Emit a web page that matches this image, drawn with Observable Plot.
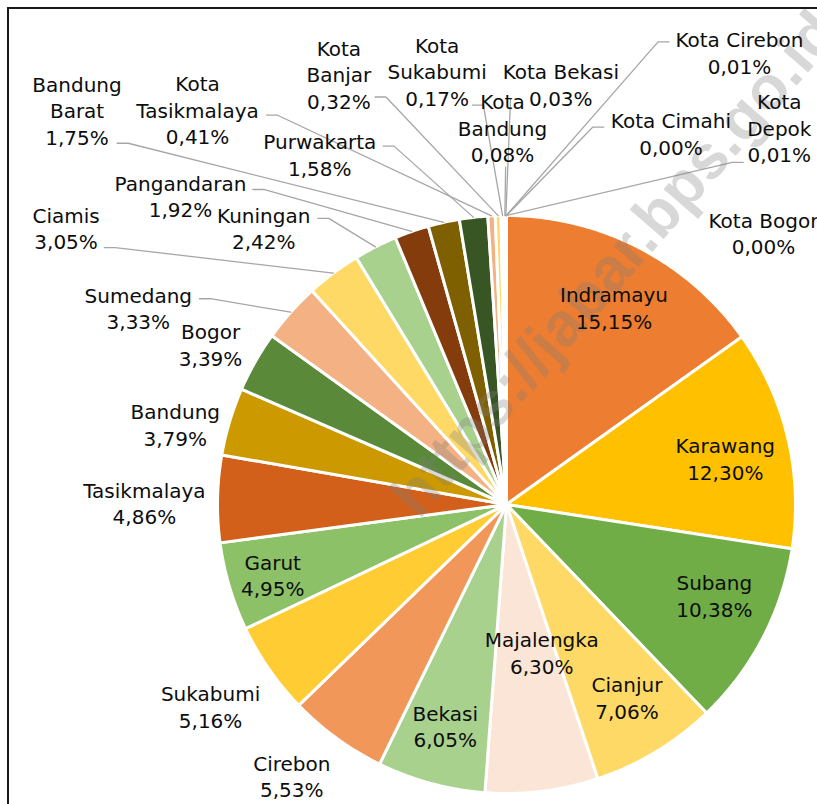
<!DOCTYPE html>
<html>
<head>
<meta charset="utf-8">
<script src="https://cdn.jsdelivr.net/npm/d3@7"></script>
<script src="https://cdn.jsdelivr.net/npm/@observablehq/plot@0.6"></script>
<style>
  html, body { margin: 0; padding: 0; background: #fff; overflow: hidden; }
  #wrap { position: relative; width: 817px; height: 804px; overflow: hidden; }
  #frame { position: absolute; left: 7px; top: 7px; width: 900px; height: 900px;
           border: 2.5px solid #1a1a1a; box-sizing: border-box; pointer-events: none; }
</style>
</head>
<body>
<div id="wrap"><div id="chart"></div><div id="frame"></div></div>
<script>
// ---- data ----
const regions = ["Indramayu","Karawang","Subang","Cianjur","Majalengka","Bekasi","Cirebon","Sukabumi","Garut","Tasikmalaya","Bandung","Bogor","Sumedang","Ciamis","Kuningan","Pangandaran","Bandung Barat","Purwakarta","Kota Tasikmalaya","Kota Banjar","Kota Sukabumi","Kota Bandung","Kota Bekasi","Kota Cirebon","Kota Depok","Kota Cimahi","Kota Bogor"];
const shares = [15.15,12.30,10.38,7.06,6.30,6.05,5.53,5.16,4.95,4.86,3.79,3.39,3.33,3.05,2.42,1.92,1.75,1.58,0.41,0.32,0.17,0.08,0.03,0.01,0.01,0.00,0.00];
const labelText = ["Indramayu","Karawang","Subang","Cianjur","Majalengka","Bekasi","Cirebon","Sukabumi","Garut","Tasikmalaya","Bandung","Bogor","Sumedang","Ciamis","Kuningan","Pangandaran","Bandung\nBarat","Purwakarta","Kota\nTasikmalaya","Kota\nBanjar","Kota\nSukabumi","Kota\nBandung","Kota Bekasi","Kota Cirebon","Kota\nDepok","Kota Cimahi","Kota Bogor"];
const watermark = "https://jabar.bps.go.id";

// ---- styles ----
const sliceColors = ["#ED7D31","#FFC000","#70AD47","#FFD966","#FBE5D6","#A9D18E","#F1975A","#FFCD33","#8CC168","#D2601A","#CC9A00","#5A8A39","#F4B183","#FFD966","#A9D18E","#843C0C","#7F6000","#375623","#F4B183","#FFD966","#A9D18E","#F8CBAD","#FFE699","#C5E0B4","#F4B183","#FFD966","#A9D18E"];

// ---- layout (in pie-radius units, centre = 0,0, y up) ----
const labelPos = [[0.372,0.684],[0.757,0.160],[0.719,-0.313],[0.417,-0.667],[0.122,-0.510],[-0.212,-0.764],[-0.743,-0.938],[-1.024,-0.698],[-0.809,-0.243],[-1.253,0.007],[-1.146,0.278],[-1.024,0.556],[-1.274,0.681],[-1.524,0.958],[-0.840,0.958],[-1.128,1.069],[-1.486,1.365],[-0.646,1.212],[-1.069,1.368],[-0.580,1.490],[-0.240,1.500],[-0.014,1.306],[0.188,1.455],[0.806,1.566],[0.944,1.306],[0.569,1.285],[0.889,0.941]];
// [slice index, start u, start v, elbow direction]
const leaders = [[12,-1.0625,0.712,1],[13,-1.392,0.889,1],[14,-0.653,0.990,1],[15,-0.878,1.090,1],[16,-1.347,1.250,1],[17,-0.427,1.240,1],[18,-0.830,1.347,1],[19,-0.455,1.410,1],[20,-0.118,1.382,1],[21,-0.003,1.167,0],[22,0.014,1.403,0],[23,0.5625,1.601,-1],[24,0.819,1.184,-1],[25,0.337,1.306,-1]];

const W = 817, H = 804, CX = 506, CY = 504, R = 289;

const fmt = v => d3.format(".2f")(v).replace(".", ",") + "%";
const arcs = d3.pie().sort(null).value(d => d)(shares);

// slice outlines
const slicePts = [];
arcs.forEach((a, i) => {
  const n = Math.max(2, Math.ceil((a.endAngle - a.startAngle) / (Math.PI / 360)));
  slicePts.push({region: regions[i], x: 0, y: 0});
  for (let k = 0; k <= n; k++) {
    const t = a.startAngle + (a.endAngle - a.startAngle) * k / n;
    slicePts.push({region: regions[i], x: Math.sin(t), y: Math.cos(t)});
  }
});

// leader lines
const leaderPts = [];
leaders.forEach(([i, u, v, dir]) => {
  const a = arcs[i], m = (a.startAngle + a.endAngle) / 2;
  leaderPts.push({region: regions[i], x: u, y: v});
  if (dir !== 0) leaderPts.push({region: regions[i], x: u + dir * 0.038, y: v});
  leaderPts.push({region: regions[i], x: Math.sin(m) * 1.0, y: Math.cos(m) * 1.0});
});

const labels = regions.map((r, i) => ({
  text: labelText[i] + "\n" + fmt(shares[i]),
  x: labelPos[i][0], y: labelPos[i][1]
}));

const chart = Plot.plot({
  width: W, height: H,
  marginTop: 0, marginRight: 0, marginBottom: 0, marginLeft: 0,
  x: {domain: [-CX / R, (W - CX) / R], axis: null},
  y: {domain: [-(H - CY) / R, CY / R], axis: null},
  color: {domain: regions, range: sliceColors},
  style: {background: "transparent", overflow: "hidden"},
  marks: [
    Plot.line(slicePts, {x: "x", y: "y", z: "region", fill: "region", stroke: "white",
      strokeWidth: 3, curve: "linear-closed", strokeLinejoin: "round"}),
    Plot.line(leaderPts, {x: "x", y: "y", z: "region", stroke: "#A6A6A6", strokeWidth: 1.3}),
    Plot.text([watermark], {x: [-0.355], y: [-0.01], text: d => d, rotate: -49,
      textAnchor: "start", fontSize: 62, fontWeight: "bold", fontFamily: "Liberation Sans",
      fill: "#7f7f7f", fillOpacity: 0.3}),
    Plot.text(labels, {x: "x", y: "y", text: "text", fontSize: 20, lineHeight: 1.325,
      fontFamily: "DejaVu Sans", fill: "#0d0d0d", textAnchor: "middle"})
  ]
});
document.getElementById("chart").appendChild(chart);
</script>
</body>
</html>
